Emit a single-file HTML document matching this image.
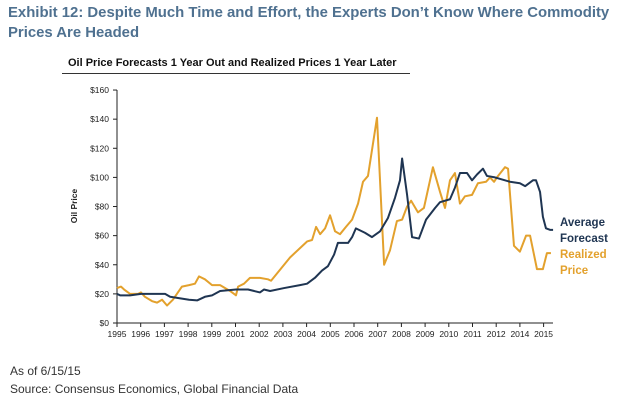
<!DOCTYPE html>
<html><head><meta charset="utf-8"><style>
body{margin:0;width:640px;height:410px;background:#fff;font-family:"Liberation Sans",sans-serif;overflow:hidden;position:relative}
.t{position:absolute;white-space:nowrap}
</style></head><body>
<div class="t" style="left:8px;top:3px;font-size:14.9px;font-weight:bold;color:#4f7190;line-height:20px">Exhibit 12: Despite Much Time and Effort, the Experts Don’t Know Where Commodity<br>Prices Are Headed</div>
<div class="t" style="left:68px;top:57px;font-size:11px;font-weight:bold;color:#111">Oil Price Forecasts 1 Year Out and Realized Prices 1 Year Later</div>
<div style="position:absolute;left:62px;top:73px;width:348px;height:1px;background:#333"></div>
<svg id="chart" width="640" height="410" style="position:absolute;left:0;top:0"></svg>
<div class="t" style="left:560px;top:215px;font-size:11.5px;font-weight:bold;color:#1f3552;line-height:16px">Average<br>Forecast</div>
<div class="t" style="left:560px;top:247px;font-size:11.5px;font-weight:bold;color:#e3a12d;line-height:16px">Realized<br>Price</div>
<div class="t" style="left:10px;top:364px;font-size:12px;color:#333">As of 6/15/15</div>
<div class="t" style="left:10px;top:382px;font-size:12px;color:#333">Source: Consensus Economics, Global Financial Data</div>
<script>
const xLabels=["1995","1996","1997","1998","1999","2001","2002","2003","2004","2005","2006","2007","2008","2009","2010","2011","2012","2014","2015"];
const yTicks=[0,20,40,60,80,100,120,140,160];
const forecastT=[0,.13,.55,1.01,2.03,2.24,3.04,3.38,3.71,4.01,4.35,5.02,5.53,6.03,6.2,6.46,7.05,7.72,8.02,8.35,8.65,8.9,9.16,9.32,9.75,9.92,10.08,10.46,10.76,11.1,11.43,11.73,11.94,12.03,12.24,12.45,12.74,13.04,13.42,13.63,14.05,14.26,14.47,14.77,14.98,15.19,15.44,15.61,15.95,16.37,16.58,17.0,17.22,17.55,17.68,17.85,17.97,18.1,18.27,18.4];
const forecastV=[20,19,19,20,20,18,16,15.5,18,19,22,23,23,21,23,22,24,26,27,31,36,39,47,55,55,59,65,62,59,63,72,86,98,113,88,59,58,71,79,83,85,93,103,103,98,102,106,101,100,98,97,96,94,98,98,90,73,65,64,64];
const realizedT=[0,.17,.3,.55,.89,1.01,1.18,1.48,1.69,1.9,2.11,2.36,2.74,3.04,3.29,3.46,3.71,4.01,4.35,4.77,5.02,5.11,5.36,5.61,6.03,6.37,6.5,7.3,8.02,8.23,8.4,8.57,8.78,8.99,9.2,9.41,9.66,9.92,10.17,10.38,10.59,10.97,11.27,11.52,11.81,12.03,12.24,12.41,12.7,12.95,13.33,13.63,13.84,14.05,14.26,14.47,14.68,14.98,15.23,15.57,15.74,15.91,16.03,16.37,16.5,16.75,17.0,17.26,17.43,17.72,17.97,18.14,18.31];
const realizedV=[24,25,23,20,20,21,18,15,14,16,12,16,25,26,27,32,30,26,26,22,19,25,27,31,31,30,29,45,56,57,66,61,65,74,63,61,66,71,82,97,101,141,40,50,70,71,80,84,76,79,107,90,79,98,103,82,87,88,96,97,100,97,100,107,106,53,49,60,60,37,37,48,48];
const NS="http://www.w3.org/2000/svg",svg=document.getElementById('chart');
const x=t=>117+23.7*t, y=v=>323-1.456*v;
function mk(tag,a){const e=document.createElementNS(NS,tag);for(const k in a)e.setAttribute(k,a[k]);svg.appendChild(e);return e;}
const ya=mk('line',{x1:117,y1:y(160),x2:117,y2:323,stroke:'#222','stroke-width':1});


const xa=mk('line',{x1:117,y1:323,x2:553,y2:323,stroke:'#222','stroke-width':1});


yTicks.forEach(v=>{
 mk('line',{x1:113,x2:117,y1:y(v),y2:y(v),stroke:'#222'});
 const tx=mk('text',{x:109,y:y(v)+3,'text-anchor':'end','font-size':8.5,fill:'#222','font-family':'Liberation Sans'});
 tx.textContent='$'+v;
 
 
});
xLabels.forEach((l,i)=>{
 mk('line',{x1:x(i),x2:x(i),y1:323,y2:327,stroke:'#222'});
 const tx=mk('text',{x:x(i),y:337,'text-anchor':'middle','font-size':8.5,fill:'#222','font-family':'Liberation Sans'});
 tx.textContent=l;
 
 
});
const yt=mk('text',{x:0,y:0,transform:'translate(77,206) rotate(-90)','text-anchor':'middle','font-size':8.5,'font-weight':'bold',fill:'#222','font-family':'Liberation Sans'});
yt.textContent='Oil Price';


function line(T,V,c){return mk('polyline',{points:T.map((t,i)=>x(t)+','+y(V[i])).join(' '),fill:'none',stroke:c,'stroke-width':2,'stroke-linejoin':'round'});}
const r=line(realizedT,realizedV,'#e3a12d');


const f=line(forecastT,forecastV,'#1f3552');


</script>
</body></html>
